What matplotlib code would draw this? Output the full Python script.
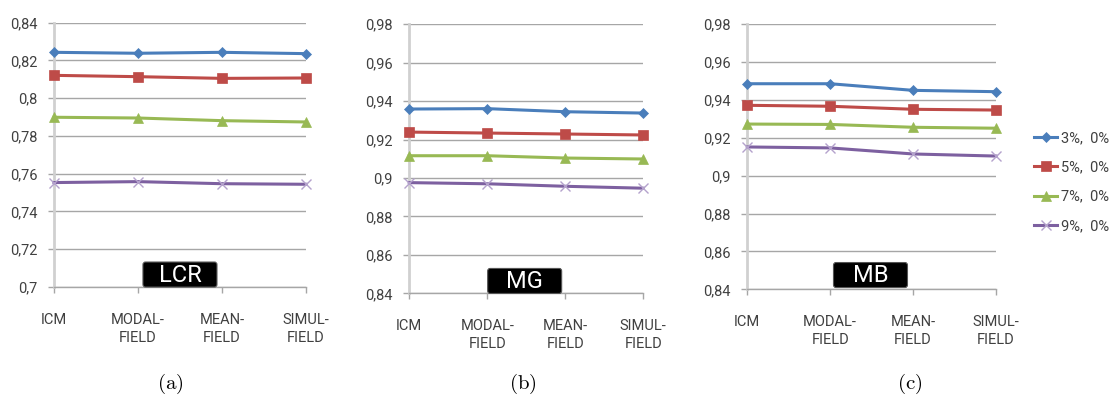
import matplotlib
matplotlib.use("Agg")
import matplotlib.pyplot as plt
from matplotlib.patches import FancyBboxPatch
from matplotlib.lines import Line2D

plt.rcParams['mathtext.fontset'] = 'cm'

categories = ["ICM", "MODAL-\nFIELD", "MEAN-\nFIELD", "SIMUL-\nFIELD"]
series_labels = ["3%,  0%", "5%,  0%", "7%,  0%", "9%,  0%"]

# Panel (a) LCR
lcr_3 = [0.8243, 0.8238, 0.8243, 0.8236]
lcr_5 = [0.8121, 0.8114, 0.8105, 0.8107]
lcr_7 = [0.7899, 0.7895, 0.7881, 0.7874]
lcr_9 = [0.7553, 0.7558, 0.7547, 0.7544]
# Panel (b) MG
mg_3 = [0.9359, 0.9361, 0.9345, 0.9338]
mg_5 = [0.9239, 0.9234, 0.9229, 0.9224]
mg_7 = [0.9116, 0.9116, 0.9104, 0.9099]
mg_9 = [0.8976, 0.8970, 0.8957, 0.8947]
# Panel (c) MB
mb_3 = [0.9486, 0.9486, 0.9451, 0.9444]
mb_5 = [0.9372, 0.9367, 0.9351, 0.9347]
mb_7 = [0.9273, 0.9271, 0.9256, 0.9251]
mb_9 = [0.9152, 0.9147, 0.9115, 0.9104]

yticks_a = [0.70, 0.72, 0.74, 0.76, 0.78, 0.80, 0.82, 0.84]
ylabels_a = ["0,7", "0,72", "0,74", "0,76", "0,78", "0,8", "0,82", "0,84"]
yticks_bc = [0.84, 0.86, 0.88, 0.90, 0.92, 0.94, 0.96, 0.98]
ylabels_bc = ["0,84", "0,86", "0,88", "0,9", "0,92", "0,94", "0,96", "0,98"]

panel_names = ["LCR", "MG", "MB"]
captions = ["(a)", "(b)", "(c)"]

colors = ["#4A7EBB", "#BE4B48", "#98B954", "#7D60A0"]
markers = ["D", "s", "^", "x"]
msizes = [5.5, 7.5, 7.5, 7.5]
mfc = ["#4A7EBB", "#BE4B48", "#98B954", "#B4A2CC"]

fig = plt.figure(figsize=(11.13, 3.98), dpi=100)
W, H = 1113, 398

positions = [
    [0.0485, 0.279, 0.2264, 0.664],
    [0.3677, 0.263, 0.2102, 0.676],
    [0.6714, 0.273, 0.2235, 0.666],
]
data = [
    [lcr_3, lcr_5, lcr_7, lcr_9],
    [mg_3, mg_5, mg_7, mg_9],
    [mb_3, mb_5, mb_7, mb_9],
]
yt = [(yticks_a, ylabels_a), (yticks_bc, ylabels_bc), (yticks_bc, ylabels_bc)]
box_x = [1.5, 1.48, 1.486]
box_yfrac = [0.047, 0.046, 0.054]
caption_x = [170, 523, 910]

tick_font = ['Roboto', 'DejaVu Sans']
grid_c = "#A6A6A6"
text_c = "#404040"
fs = 10.5

for i, pos in enumerate(positions):
    ax = fig.add_axes(pos)
    xs = list(range(len(categories)))
    for j, s in enumerate(data[i]):
        ax.plot(xs, s, color=colors[j], lw=2.2, marker=markers[j],
                markersize=msizes[j], markerfacecolor=mfc[j],
                markeredgecolor=mfc[j], markeredgewidth=1.0 if markers[j] == 'x' else 0.5,
                zorder=3, clip_on=False)
    ticks, labels = yt[i]
    ax.set_ylim(ticks[0], ticks[-1])
    ax.set_xlim(0, 3)
    ax.set_yticks(ticks)
    ax.set_yticklabels(labels, family=tick_font, fontsize=fs, color=text_c)
    ax.set_xticks(xs)
    ax.set_xticklabels(categories, family=tick_font, fontsize=fs, color=text_c,
                       linespacing=1.35)
    for sp in ["top", "right"]:
        ax.spines[sp].set_visible(False)
    ax.spines["left"].set_color("#D0D0D0")
    ax.spines["left"].set_linewidth(2.0)
    ax.spines["bottom"].set_color(grid_c)
    ax.spines["bottom"].set_linewidth(1.0)
    ax.grid(axis='y', color=grid_c, lw=1.0)
    ax.set_axisbelow(True)
    ax.tick_params(axis='y', direction='out', length=4, width=1, color=grid_c, pad=8)
    ax.tick_params(axis='x', direction='out', length=4.5, width=1, color=grid_c, pad=14)

    # black label box
    bw = 74 / (pos[2] * W)
    bh = 25 / (pos[3] * H)
    cx = box_x[i] / 3.0
    cy = box_yfrac[i]
    box = FancyBboxPatch((cx - bw / 2, cy - bh / 2), bw, bh,
                         boxstyle="round,pad=0,rounding_size=0.01",
                         transform=ax.transAxes, facecolor="black",
                         edgecolor="#555555", lw=0.8, zorder=5, clip_on=False)
    ax.add_patch(box)
    ax.text(cx, cy - 0.003, panel_names[i], transform=ax.transAxes, ha='center', va='center',
            color='white', fontsize=17, family=['Roboto', 'DejaVu Sans'],
            zorder=6)

    fig.text(caption_x[i] / W, 1 - 384 / H, r"$\mathrm{" + captions[i] + "}$",
             ha='center', va='center', fontsize=15)

handles = [Line2D([0], [0], color=colors[j], lw=2.2, marker=markers[j],
                  markersize=msizes[j], markerfacecolor=mfc[j], markeredgecolor=mfc[j],
                  markeredgewidth=1.0 if markers[j] == 'x' else 0.5)
           for j in range(4)]
fig.legend(handles, series_labels, loc='upper left',
           bbox_to_anchor=(1034 / W, 1 - 131 / H), frameon=False,
           handlelength=1.6, handletextpad=0.25, labelspacing=1.05, borderpad=0,
           borderaxespad=0, prop={'family': tick_font, 'size': fs},
           labelcolor=text_c)

fig.savefig("out.png", dpi=100)
